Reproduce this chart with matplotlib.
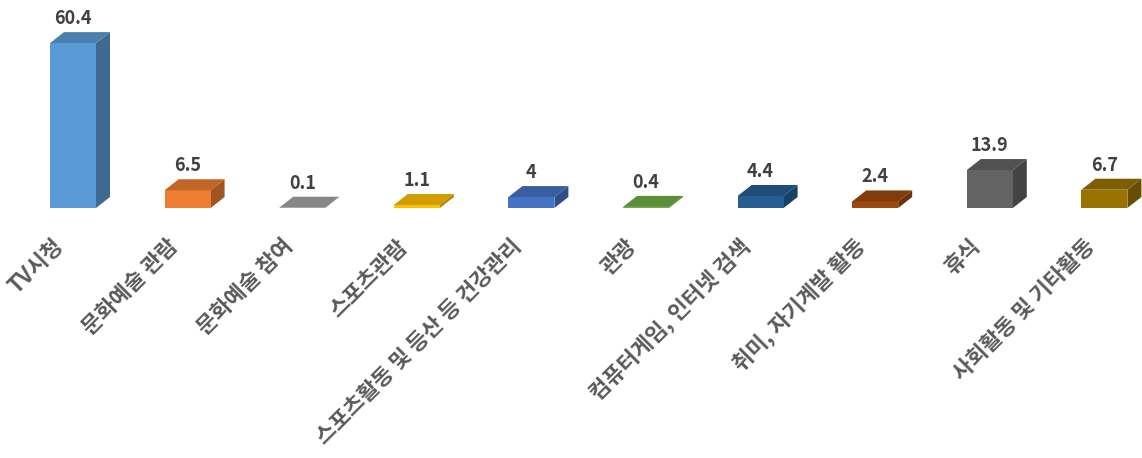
import matplotlib
matplotlib.use("Agg")
import matplotlib.pyplot as plt
from matplotlib.patches import Polygon
import matplotlib.colors as mcolors

plt.rcParams['font.family'] = ['Noto Sans CJK KR', 'DejaVu Sans']

categories = ["TV시청", "문화예술 관람", "문화예술 참여", "스포츠관람",
              "스포츠활동 및 등산 등 건강관리", "관광", "컴퓨터게임, 인터넷 검색",
              "취미, 자기계발 활동", "휴식", "사회활동 및 기타활동"]
values = [60.4, 6.5, 0.1, 1.1, 4, 0.4, 4.4, 2.4, 13.9, 6.7]
labels = ["60.4", "6.5", "0.1", "1.1", "4", "0.4", "4.4", "2.4", "13.9", "6.7"]
colors = ["#5B9BD5", "#ED7D31", "#A5A5A5", "#FFC000", "#4472C4",
          "#70AD47", "#255E91", "#9E480E", "#636363", "#997300"]

W, H = 1142, 458
fig = plt.figure(figsize=(W / 100, H / 100), dpi=100)
ax = fig.add_axes([0, 0, 1, 1])
ax.axis('off')

px_per_cat = 114.6
px_per_unit = 2.73
x0_px = 73.0
base_px = 208.0
ax.set_xlim(-x0_px / px_per_cat, (W - x0_px) / px_per_cat)
ax.set_ylim(-(H - base_px) / px_per_unit, base_px / px_per_unit)

w = 46 / px_per_cat
dx = 14 / px_per_cat
dy = 11 / px_per_unit


def shade(c, f):
    r, g, b = mcolors.to_rgb(c)
    return (r * f, g * f, b * f)


for i, (v, c) in enumerate(zip(values, colors)):
    l, r = i - w / 2, i + w / 2
    front = Polygon([(l, 0), (r, 0), (r, v), (l, v)], closed=True,
                    facecolor=c, edgecolor='none', zorder=3)
    top = Polygon([(l, v), (r, v), (r + dx, v + dy), (l + dx, v + dy)], closed=True,
                  facecolor=shade(c, 0.82), edgecolor='none', zorder=3)
    side = Polygon([(r, 0), (r + dx, dy), (r + dx, v + dy), (r, v)], closed=True,
                   facecolor=shade(c, 0.68), edgecolor='none', zorder=3)
    for p in (side, front, top):
        ax.add_patch(p)
    ax.text(i, v + dy + 4 / px_per_unit, labels[i], ha='center', va='bottom',
            fontsize=13, fontweight='bold', color='#404040', zorder=4)

for i, cat in enumerate(categories):
    ax.text(i - 13 / px_per_cat, -35 / px_per_unit, cat, rotation=45,
            rotation_mode='anchor', ha='right', va='center', fontsize=15.7,
            fontweight='bold', color='#595959')

fig.savefig("out.png", dpi=100)
